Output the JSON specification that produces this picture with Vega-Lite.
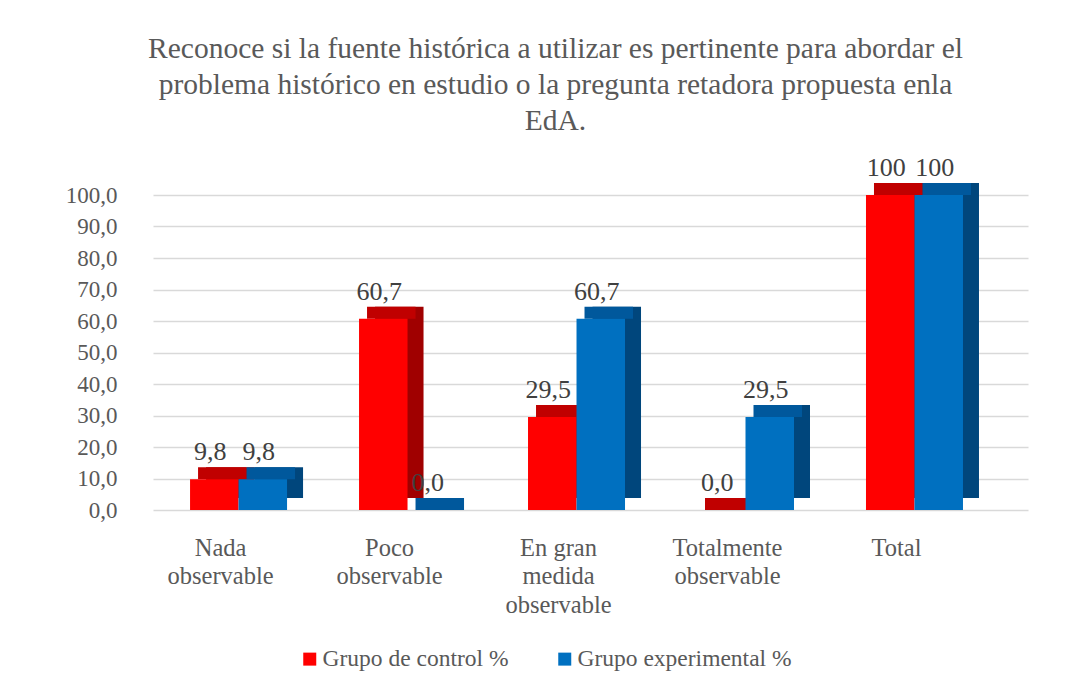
{
  "$schema": "https://vega.github.io/schema/vega-lite/v6.json",
  "width": 875,
  "height": 315,
  "autosize": {"type": "none"},
  "padding": {"left": 153, "top": 195, "right": 53, "bottom": 178},
  "background": "white",
  "title": {
    "text": ["Reconoce si la fuente histórica a utilizar es pertinente para abordar el", "problema histórico en estudio o la pregunta retadora propuesta enla", "EdA."],
    "font": "Liberation Serif",
    "fontSize": 29.5,
    "fontWeight": "normal",
    "color": "#595959",
    "lineHeight": 36,
    "anchor": "middle",
    "frame": "group",
    "dx": -35,
    "offset": 19
  },
  "data": {
    "values": [
      {"category": "Nada observable", "series": "Grupo de control %", "value": 9.8, "label": "9,8"},
      {"category": "Nada observable", "series": "Grupo experimental %", "value": 9.8, "label": "9,8"},
      {"category": "Poco observable", "series": "Grupo de control %", "value": 60.7, "label": "60,7"},
      {"category": "Poco observable", "series": "Grupo experimental %", "value": 0.0, "label": "0,0"},
      {"category": "En gran medida observable", "series": "Grupo de control %", "value": 29.5, "label": "29,5"},
      {"category": "En gran medida observable", "series": "Grupo experimental %", "value": 60.7, "label": "60,7"},
      {"category": "Totalmente observable", "series": "Grupo de control %", "value": 0.0, "label": "0,0"},
      {"category": "Totalmente observable", "series": "Grupo experimental %", "value": 29.5, "label": "29,5"},
      {"category": "Total", "series": "Grupo de control %", "value": 100, "label": "100"},
      {"category": "Total", "series": "Grupo experimental %", "value": 100, "label": "100"}
    ]
  },
  "encoding": {
    "x": {
      "field": "category",
      "type": "nominal",
      "sort": null,
      "title": null,
      "scale": {"paddingInner": 0.426, "paddingOuter": 0.302, "align": 0.363},
      "axis": {
        "labelAngle": 0,
        "labelFont": "Liberation Serif",
        "labelFontSize": 24.5,
        "labelColor": "#595959",
        "labelLineHeight": 28.5,
        "labelPadding": 26,
        "labelOffset": -18,
        "labelBaseline": "top",
        "labelLimit": 300,
        "domain": false,
        "ticks": false,
        "grid": false,
        "labelExpr": "datum.label == 'En gran medida observable' ? ['En gran', 'medida', 'observable'] : split(datum.label, ' ')"
      }
    },
    "y": {
      "field": "value",
      "type": "quantitative",
      "scale": {"domain": [0, 100], "nice": false},
      "title": null,
      "axis": {
        "values": [0, 10, 20, 30, 40, 50, 60, 70, 80, 90, 100],
        "labelExpr": "replace(format(datum.value, '.1f'), '.', ',')",
        "labelFont": "Liberation Serif",
        "labelFontSize": 23,
        "labelColor": "#595959",
        "labelPadding": 36,
        "labelOverlap": false,
        "domain": false,
        "ticks": false,
        "gridColor": "#D9D9D9",
        "gridWidth": 1.5
      }
    }
  },
  "layer": [
    {
      "mark": {"type": "bar", "yOffset": -12, "y2Offset": -12},
      "encoding": {
        "xOffset": {"field": "series", "type": "nominal", "sort": ["Grupo de control %", "Grupo experimental %"], "scale": {"range": [16, 113]}},
        "y2": {"datum": 0},
        "color": {
          "field": "series",
          "type": "nominal",
          "scale": {"domain": ["Grupo de control %", "Grupo experimental %"], "range": ["#A00000", "#00467C"]},
          "legend": null
        }
      }
    },
    {
      "mark": {"type": "bar", "yOffset": -12},
      "encoding": {
        "xOffset": {"field": "series", "type": "nominal", "sort": ["Grupo de control %", "Grupo experimental %"], "scale": {"range": [8, 105]}},
        "y2": {"field": "value"},
        "color": {
          "field": "series",
          "type": "nominal",
          "scale": {"domain": ["Grupo de control %", "Grupo experimental %"], "range": ["#C00000", "#00589C"]},
          "legend": null
        }
      }
    },
    {
      "mark": {"type": "bar"},
      "encoding": {
        "xOffset": {"field": "series", "type": "nominal", "sort": ["Grupo de control %", "Grupo experimental %"], "scale": {"range": [0, 97]}},
        "color": {
          "field": "series",
          "type": "nominal",
          "scale": {"domain": ["Grupo de control %", "Grupo experimental %"], "range": ["#FF0000", "#0070C0"]},
          "legend": {
            "title": null,
            "orient": "none",
            "legendX": 145,
            "legendY": 452,
            "padding": 0,
            "direction": "horizontal",
            "symbolType": "square",
            "symbolSize": 169,
            "symbolStrokeWidth": 0,
            "labelFont": "Liberation Serif",
            "labelFontSize": 23.5,
            "labelColor": "#595959",
            "labelOffset": 1,
            "labelLimit": 400,
            "columnPadding": 44
          }
        }
      }
    },
    {
      "mark": {"type": "text", "font": "Liberation Serif", "fontSize": 26, "color": "#404040", "baseline": "bottom", "dy": -14, "dx": -4},
      "encoding": {
        "xOffset": {"field": "series", "type": "nominal", "sort": ["Grupo de control %", "Grupo experimental %"], "scale": {"range": [0, 97]}},
        "text": {"field": "label"}
      }
    }
  ],
  "resolve": {"scale": {"color": "independent", "xOffset": "independent"}, "legend": {"color": "independent"}},
  "config": {
    "font": "Liberation Serif",
    "view": {"stroke": null}
  }
}
